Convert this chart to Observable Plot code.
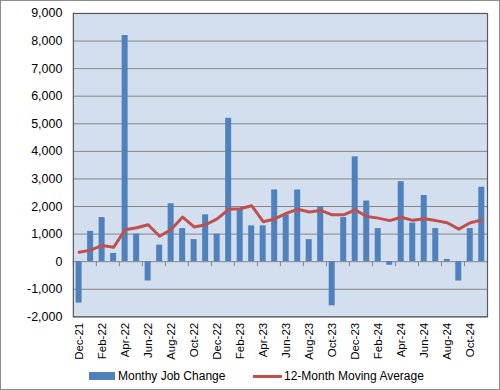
<!DOCTYPE html>
<html><head><meta charset="utf-8">
<script src="https://cdn.jsdelivr.net/npm/d3@7"></script>
<script src="https://cdn.jsdelivr.net/npm/@observablehq/plot@0.6"></script>
<style>
html,body{margin:0;padding:0;background:#fff;}
#wrap{position:relative;width:500px;height:390px;box-sizing:border-box;border:1px solid #8c8c8c;overflow:hidden;font-family:"Liberation Sans",Arial,sans-serif;color:#000;}
#chart{position:absolute;left:-1px;top:-1px;}
.lg{position:absolute;font-size:12px;line-height:14px;white-space:nowrap;}
</style></head>
<body><div id="wrap"><div id="chart"></div>
<div class="lg" style="left:88px;top:371px;width:26px;height:8px;background:#4F81BD"></div>
<div class="lg" style="left:117px;top:368px;">Monthy Job Change</div>
<div class="lg" style="left:252px;top:374px;width:29px;height:3px;background:#C0504D"></div>
<div class="lg" style="left:283px;top:368px;">12-Month Moving Average</div>
</div>
<script>
const months = ["Dec-21","Jan-22","Feb-22","Mar-22","Apr-22","May-22","Jun-22","Jul-22","Aug-22","Sep-22","Oct-22","Nov-22",
"Dec-22","Jan-23","Feb-23","Mar-23","Apr-23","May-23","Jun-23","Jul-23","Aug-23","Sep-23","Oct-23","Nov-23",
"Dec-23","Jan-24","Feb-24","Mar-24","Apr-24","May-24","Jun-24","Jul-24","Aug-24","Sep-24","Oct-24","Nov-24"];
const jobChange = [-1500,1100,1600,300,8200,1000,-700,600,2100,1200,800,1700,
1000,5200,1900,1300,1300,2600,1700,2600,800,2000,-1600,1600,
3800,2200,1200,-130,2900,1400,2400,1200,80,-700,1200,2700];
const movingAvg = [340,420,590,520,1160,1230,1340,920,1170,1620,1260,1340,
1550,1900,1920,2030,1450,1550,1750,1900,1800,1860,1700,1700,
1880,1640,1580,1490,1610,1500,1560,1490,1410,1180,1410,1510];
const yTicks = [-2000,-1000,0,1000,2000,3000,4000,5000,6000,7000,8000,9000];
const xTickLabels = months.filter((d,i)=>i%2===0);
const boundaryMonths = months.filter((d,i)=>i%2===0);

const W = 500, H = 368, mL = 73, mR = 12, mT = 13, mB = 51;
const step = (W - mL - mR) / months.length;
const fmt = d => d3.format(",")(d).replace("\u2212","-");
const rows = months.map((m,i)=>({m, v: jobChange[i], a: movingAvg[i]}));

const chart = Plot.plot({
  width: W, height: H,
  marginLeft: mL, marginRight: mR, marginTop: mT, marginBottom: mB,
  style: {fontFamily: '"Liberation Sans", Arial, sans-serif', fontSize: "11px", background: "transparent", color: "#000"},
  x: {type: "band", domain: months, paddingInner: 0.48, paddingOuter: 0.24, round: false, label: null},
  y: {domain: [-2000, 9000], label: null},
  marks: [
    Plot.frame({fill: "#D3DEEF", stroke: null}),
    Plot.ruleY(yTicks, {stroke: "#868686", strokeWidth: 1}),
    Plot.barY(rows, {x: "m", y: "v", fill: "#4F81BD"}),
    Plot.ruleX(boundaryMonths, {x: d => d, y1: 0, y2: 0, insetBottom: -5, dx: -step/2, stroke: "#868686"}),
    Plot.lineY(rows, {x: "m", y: "a", stroke: "#C0504D", strokeWidth: 3, strokeLinejoin: "round"}),
    Plot.frame({stroke: "#595959", strokeWidth: 1.2}),
    Plot.axisY({ticks: yTicks, tickFormat: fmt, tickSize: 0, tickPadding: 11, fontSize: 12.5}),
    Plot.axisX({ticks: xTickLabels, tickSize: 0, tickPadding: 6, tickRotate: -90, fontSize: 11.5})
  ]
});
document.getElementById("chart").appendChild(chart);
</script>
</body></html>
